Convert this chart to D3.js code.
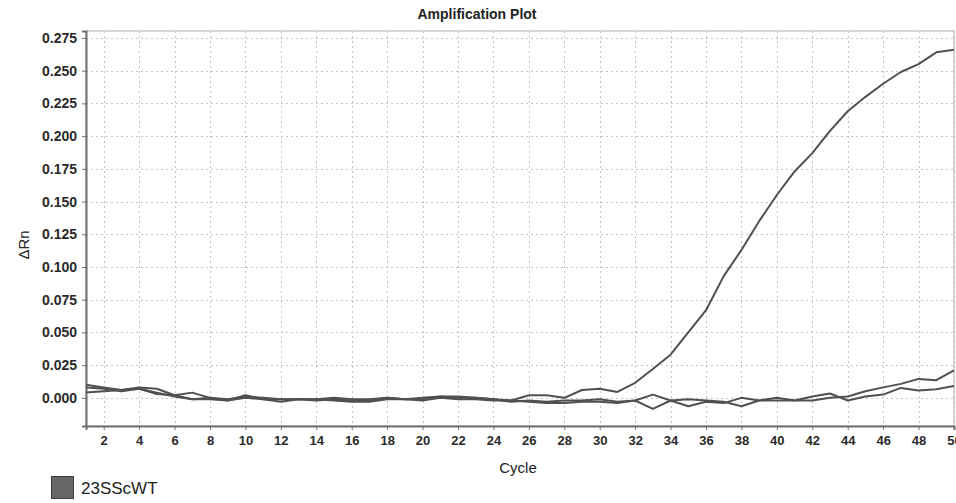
<!DOCTYPE html>
<meta charset="utf-8">
<style>
    body {
        margin: 0;
        padding: 0;
        background: #fff;
    }
    text {
        font-family: "Liberation Sans", Arial, sans-serif;
    }
    .grid line {
        stroke: #c4c4c4;
        stroke-dasharray: 2,3;
    }
    .tick-label {
        font-size: 14px;
        font-weight: bold;
        fill: #2a2a2a;
    }
    .trace {
        fill: none;
        stroke: #505050;
        stroke-width: 2;
        stroke-linejoin: round;
    }
</style>
<body>
<script src="https://d3js.org/d3.v7.min.js"></script>
<script>
    // cycle numbers (x categories)
    var cycles = [1, 2, 3, 4, 5, 6, 7, 8, 9, 10, 11, 12, 13, 14, 15, 16, 17, 18, 19, 20,
        21, 22, 23, 24, 25, 26, 27, 28, 29, 30, 31, 32, 33, 34, 35, 36, 37, 38, 39, 40,
        41, 42, 43, 44, 45, 46, 47, 48, 49, 50];

    // delta Rn per well
    var wellA = [0.004, 0.005, 0.006, 0.007, 0.003, 0.002, -0.001, 0.000, -0.001, 0.001,
        0.000, -0.001, -0.001, -0.001, 0.000, -0.001, -0.001, 0.000, -0.001, 0.000,
        0.001, 0.001, 0.000, -0.001, -0.002, 0.002, 0.002, 0.000, 0.006, 0.007,
        0.0045, 0.0115, 0.022, 0.033, 0.050, 0.067, 0.093, 0.113, 0.135, 0.155,
        0.173, 0.187, 0.204, 0.219, 0.230, 0.240, 0.249, 0.255, 0.264, 0.266];

    var wellB = [0.010, 0.008, 0.006, 0.008, 0.007, 0.002, 0.004, 0.000, -0.002, 0.002,
        -0.001, -0.003, -0.001, -0.002, -0.001, -0.002, -0.002, 0.000, -0.001, -0.001,
        0.001, 0.000, 0.000, -0.001, -0.003, -0.002, -0.003, -0.002, -0.002, -0.001,
        -0.003, -0.002, 0.0025, -0.002, -0.0064, -0.003, -0.004, 0.000, -0.002, 0.000,
        -0.002, 0.001, 0.0033, -0.002, 0.001, 0.0025, 0.0076, 0.0056, 0.0065, 0.009];

    var wellC = [0.008, 0.007, 0.005, 0.007, 0.004, 0.001, -0.001, -0.001, -0.002, 0.000,
        -0.001, -0.001, -0.001, -0.001, -0.002, -0.003, -0.003, -0.001, -0.001, -0.002,
        0.000, -0.001, -0.001, -0.002, -0.002, -0.003, -0.004, -0.004, -0.003, -0.003,
        -0.004, -0.002, -0.0084, -0.002, -0.001, -0.002, -0.003, -0.0064, -0.002, -0.002,
        -0.002, -0.002, 0.000, 0.001, 0.005, 0.008, 0.0107, 0.0145, 0.0135, 0.021];

    var yTicks = [0, 0.025, 0.05, 0.075, 0.1, 0.125, 0.15, 0.175, 0.2, 0.225, 0.25, 0.275];
    var xTicks = [2, 4, 6, 8, 10, 12, 14, 16, 18, 20, 22, 24, 26, 28, 30, 32, 34, 36, 38, 40,
        42, 44, 46, 48, 50];

    var wells = [wellA, wellB, wellC];
    var legendName = "23SScWT";

    var width = 956,
        height = 503,
        margin = {top: 31, right: 2, bottom: 77, left: 86};

    var x = d3.scaleLinear()
        .domain([1, 50])
        .range([margin.left, width - margin.right]);

    var y = d3.scaleLinear()
        .domain([-0.0215, 0.2803])
        .range([height - margin.bottom, margin.top]);

    var svg = d3.select("body")
        .append("svg")
        .attr("width", width)
        .attr("height", height);

    // title
    svg.append("text")
        .attr("x", 477)
        .attr("y", 19)
        .attr("text-anchor", "middle")
        .style("font-size", "14px")
        .style("font-weight", "bold")
        .style("fill", "#222")
        .text("Amplification Plot");

    // dotted grid
    var grid = svg.append("g").attr("class", "grid");
    grid.selectAll(".gy")
        .data(yTicks)
        .enter().append("line")
        .attr("x1", margin.left)
        .attr("x2", width - margin.right)
        .attr("y1", function(d) { return Math.round(y(d)) + 0.5; })
        .attr("y2", function(d) { return Math.round(y(d)) + 0.5; });
    grid.selectAll(".gx")
        .data(xTicks)
        .enter().append("line")
        .attr("x1", function(d) { return Math.round(x(d)) + 0.5; })
        .attr("x2", function(d) { return Math.round(x(d)) + 0.5; })
        .attr("y1", margin.top)
        .attr("y2", height - margin.bottom);

    // frame: light top/right, darker left/bottom
    svg.append("rect")
        .attr("x", margin.left)
        .attr("y", margin.top)
        .attr("width", width - margin.right - margin.left)
        .attr("height", height - margin.bottom - margin.top)
        .style("fill", "none")
        .style("stroke", "#b0b0b0")
        .style("stroke-width", 1);

    // axes
    var yAxis = d3.axisLeft(y)
        .tickValues(yTicks)
        .tickSize(4)
        .tickPadding(5)
        .tickFormat(d3.format(".3f"));
    var xAxis = d3.axisBottom(x)
        .tickValues(xTicks)
        .tickSize(4)
        .tickPadding(6)
        .tickFormat(d3.format("d"));

    var gy = svg.append("g")
        .attr("transform", "translate(" + margin.left + ",0)")
        .call(yAxis);
    var gx = svg.append("g")
        .attr("transform", "translate(0," + (height - margin.bottom) + ")")
        .call(xAxis);

    [gx, gy].forEach(function(g) {
        g.select(".domain").style("stroke", "#707070").style("stroke-width", 2);
        g.selectAll(".tick line").style("stroke", "#707070");
        g.selectAll(".tick text")
            .attr("class", "tick-label");
        g.attr("font-family", null).attr("font-size", null);
    });
    gx.selectAll(".tick text").style("font-size", "13px");

    // axis titles
    svg.append("text")
        .attr("x", 518)
        .attr("y", 473)
        .attr("text-anchor", "middle")
        .style("font-size", "15px")
        .style("fill", "#222")
        .text("Cycle");

    svg.append("text")
        .attr("transform", "translate(29,245) rotate(-90)")
        .attr("text-anchor", "middle")
        .style("font-size", "15px")
        .style("fill", "#222")
        .text("ΔRn");

    // traces
    var line = d3.line()
        .x(function(d, i) { return x(cycles[i]); })
        .y(function(d) { return y(d); });

    svg.append("defs").append("clipPath")
        .attr("id", "plot-clip")
        .append("rect")
        .attr("x", margin.left)
        .attr("y", margin.top)
        .attr("width", width - margin.right - margin.left)
        .attr("height", height - margin.bottom - margin.top);

    svg.append("g")
        .attr("clip-path", "url(#plot-clip)")
        .selectAll("path")
        .data(wells)
        .enter().append("path")
        .attr("class", "trace")
        .attr("d", line);

    // legend
    var legend = svg.append("g").attr("transform", "translate(51,476)");
    legend.append("rect")
        .attr("x", 0.5)
        .attr("y", 0.5)
        .attr("width", 22)
        .attr("height", 22)
        .style("fill", "#676767")
        .style("stroke", "#3c3c3c");
    legend.append("text")
        .attr("x", 30)
        .attr("y", 18)
        .style("font-size", "17px")
        .style("fill", "#222")
        .text(legendName);
</script>
</body>
</html>
